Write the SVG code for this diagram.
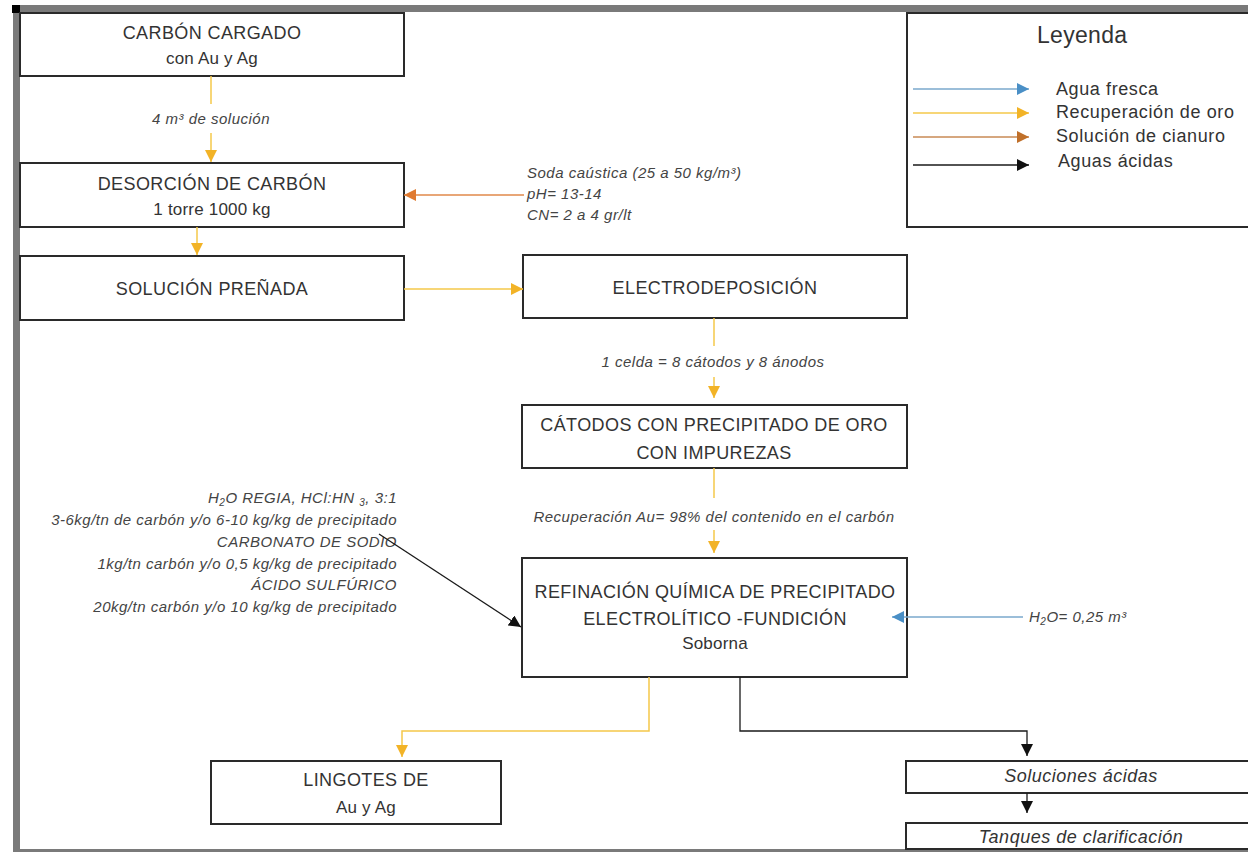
<svg xmlns="http://www.w3.org/2000/svg" width="1248" height="852" viewBox="0 0 1248 852">
  <defs>
    <style>
      .box { fill: #ffffff; stroke: #2a2a2a; stroke-width: 2; }
      .t { font-family: "Liberation Sans", Arial, sans-serif; font-size: 18px; fill: #333333; letter-spacing: 0.4px; text-anchor: middle; }
      .s { font-family: "Liberation Sans", Arial, sans-serif; font-size: 17px; fill: #333333; letter-spacing: 0.2px; text-anchor: middle; }
      .i { font-family: "Liberation Sans", Arial, sans-serif; font-size: 15px; font-style: italic; fill: #444444; letter-spacing: 0.5px; }
      .bi { font-family: "Liberation Sans", Arial, sans-serif; font-size: 18px; font-style: italic; fill: #333333; letter-spacing: 0.5px; text-anchor: middle; }
      .lg { font-family: "Liberation Sans", Arial, sans-serif; font-size: 18px; fill: #333333; letter-spacing: 0.6px; }
      .gold { fill: none; stroke: #f5c84a; stroke-width: 1.5; }
      .orange { fill: none; stroke: #e0884a; stroke-width: 1.5; }
      .blue { fill: none; stroke: #7aa8cc; stroke-width: 1.5; }
      .black { fill: none; stroke: #1a1a1a; stroke-width: 1.3; }
      .frame { fill: #7a7a7a; }
    </style>
    <marker id="hGold" viewBox="0 0 10 10" refX="10" refY="5" markerWidth="12" markerHeight="12" markerUnits="userSpaceOnUse" orient="auto">
      <path d="M0,0 L10,5 L0,10 z" fill="#f2b327"/>
    </marker>
    <marker id="hOrange" viewBox="0 0 10 10" refX="10" refY="5" markerWidth="12" markerHeight="12" markerUnits="userSpaceOnUse" orient="auto">
      <path d="M0,0 L10,5 L0,10 z" fill="#e07a30"/>
    </marker>
    <marker id="hBrown" viewBox="0 0 10 10" refX="10" refY="5" markerWidth="12" markerHeight="12" markerUnits="userSpaceOnUse" orient="auto">
      <path d="M0,0 L10,5 L0,10 z" fill="#c0702a"/>
    </marker>
    <marker id="hBlue" viewBox="0 0 10 10" refX="10" refY="5" markerWidth="12" markerHeight="12" markerUnits="userSpaceOnUse" orient="auto">
      <path d="M0,0 L10,5 L0,10 z" fill="#4a8fc6"/>
    </marker>
    <marker id="hBlack" viewBox="0 0 10 10" refX="10" refY="5" markerWidth="12" markerHeight="12" markerUnits="userSpaceOnUse" orient="auto">
      <path d="M0,0 L10,5 L0,10 z" fill="#111111"/>
    </marker>
  </defs>

  <rect width="1248" height="852" fill="#ffffff"/>

  <!-- page frame -->
  <g id="frame">
    <rect class="frame" x="13" y="5" width="1235" height="7"/>
    <rect class="frame" x="13" y="5" width="7" height="847"/>
    <rect class="frame" x="13" y="849" width="1235" height="3"/>
    <rect x="12" y="5" width="8" height="8" fill="#000000"/>
  </g>

  <!-- flow labels -->
  <g id="labels">
    <text class="i" x="211" y="124" text-anchor="middle">4 m³ de solución</text>
    <text class="i" x="527" y="178">Soda caústica (25 a 50 kg/m³)</text>
    <text class="i" x="527" y="199">pH= 13-14</text>
    <text class="i" x="527" y="220">CN= 2 a 4 gr/lt</text>
    <text class="i" x="713" y="367" text-anchor="middle">1 celda = 8 cátodos y 8 ánodos</text>
    <text class="i" x="714" y="522" text-anchor="middle">Recuperación Au= 98% del contenido en el carbón</text>
    <text class="i" x="1029" y="622">H<tspan font-size="10" dy="3">2</tspan><tspan dy="-3">O= 0,25 m³</tspan></text>
    <g text-anchor="end">
      <text class="i" x="397" y="503">H<tspan font-size="10" dy="3">2</tspan><tspan dy="-3">O REGIA, HCl:HN </tspan><tspan font-size="10" dy="3">3</tspan><tspan dy="-3">, 3:1</tspan></text>
      <text class="i" x="397" y="525">3-6kg/tn de carbón y/o 6-10 kg/kg de precipitado</text>
      <text class="i" x="397" y="547">CARBONATO DE SODIO</text>
      <text class="i" x="397" y="569">1kg/tn carbón y/o 0,5 kg/kg de precipitado</text>
      <text class="i" x="397" y="590">ÁCIDO SULFÚRICO</text>
      <text class="i" x="397" y="612">20kg/tn carbón y/o 10 kg/kg de precipitado</text>
    </g>
  </g>

  <!-- nodes -->
  <g id="carbon-cargado">
    <rect class="box" x="20" y="13" width="384" height="63"/>
    <text class="t" x="212" y="39">CARBÓN CARGADO</text>
    <text class="s" x="212" y="64">con Au y Ag</text>
  </g>
  <g id="desorcion">
    <rect class="box" x="20" y="163" width="384" height="64"/>
    <text class="t" x="212" y="190">DESORCIÓN DE CARBÓN</text>
    <text class="s" x="212" y="215">1 torre 1000 kg</text>
  </g>
  <g id="solucion-prenada">
    <rect class="box" x="20" y="256" width="384" height="64"/>
    <text class="t" x="212" y="295">SOLUCIÓN PREÑADA</text>
  </g>
  <g id="electrodeposicion">
    <rect class="box" x="523" y="255" width="384" height="63"/>
    <text class="t" x="715" y="294">ELECTRODEPOSICIÓN</text>
  </g>
  <g id="catodos">
    <rect class="box" x="522" y="405" width="385" height="63"/>
    <text class="t" x="714" y="431">CÁTODOS CON PRECIPITADO DE ORO</text>
    <text class="t" x="714" y="459">CON IMPUREZAS</text>
  </g>
  <g id="refinacion">
    <rect class="box" x="522" y="558" width="385" height="119"/>
    <text class="t" x="715" y="598">REFINACIÓN QUÍMICA DE PRECIPITADO</text>
    <text class="t" x="715" y="625">ELECTROLÍTICO -FUNDICIÓN</text>
    <text class="s" x="715" y="649">Soborna</text>
  </g>
  <g id="lingotes">
    <rect class="box" x="211" y="761" width="290" height="63"/>
    <text class="t" x="366" y="786">LINGOTES DE</text>
    <text class="s" x="366" y="813">Au y Ag</text>
  </g>
  <g id="soluciones-acidas">
    <rect class="box" x="906" y="761" width="360" height="32"/>
    <text class="bi" x="1081" y="782">Soluciones ácidas</text>
  </g>
  <g id="tanques">
    <rect class="box" x="906" y="823" width="360" height="26"/>
    <text class="bi" x="1081" y="843">Tanques de clarificación</text>
  </g>

  <!-- legend -->
  <g id="leyenda">
    <rect class="box" x="907" y="13" width="360" height="214"/>
    <text class="lg" x="1037" y="43" style="font-size:23px;letter-spacing:0.3px">Leyenda</text>
    <path d="M913,89 H1029" stroke="#7aa8cc" stroke-width="1.5" fill="none" marker-end="url(#hBlue)"/>
    <path d="M913,113 H1029" stroke="#f5c84a" stroke-width="1.5" fill="none" marker-end="url(#hGold)"/>
    <path d="M913,137 H1029" stroke="#c88a55" stroke-width="1.5" fill="none" marker-end="url(#hBrown)"/>
    <path d="M913,165 H1029" stroke="#1a1a1a" stroke-width="1.3" fill="none" marker-end="url(#hBlack)"/>
    <text class="lg" x="1056" y="95">Agua fresca</text>
    <text class="lg" x="1056" y="118">Recuperación de oro</text>
    <text class="lg" x="1056" y="142">Solución de cianuro</text>
    <text class="lg" x="1058" y="167">Aguas ácidas</text>
  </g>

  <!-- connectors (drawn over the boxes so heads that overlap an edge stay visible) -->
  <g id="connectors">
    <path class="gold" d="M211,76 V104"/>
    <path class="gold" d="M211,133 V162" marker-end="url(#hGold)"/>
    <path class="gold" d="M197,227 V255" marker-end="url(#hGold)"/>
    <path class="gold" d="M404,289 H523" marker-end="url(#hGold)"/>
    <path class="gold" d="M714,318 V346"/>
    <path class="gold" d="M714,377 V398" marker-end="url(#hGold)"/>
    <path class="gold" d="M714,468 V498"/>
    <path class="gold" d="M714,530 V553" marker-end="url(#hGold)"/>
    <path class="gold" d="M649,677 V731 H402 V757" marker-end="url(#hGold)"/>
    <path class="orange" d="M524,195 H404" marker-end="url(#hOrange)"/>
    <path class="blue" d="M1023,617 H892" marker-end="url(#hBlue)"/>
    <path class="black" d="M379,534 L521,627" marker-end="url(#hBlack)"/>
    <path class="black" d="M740,677 V731 H1027 V756" marker-end="url(#hBlack)"/>
    <path class="black" d="M1027,793 V813" marker-end="url(#hBlack)"/>
  </g>
</svg>
